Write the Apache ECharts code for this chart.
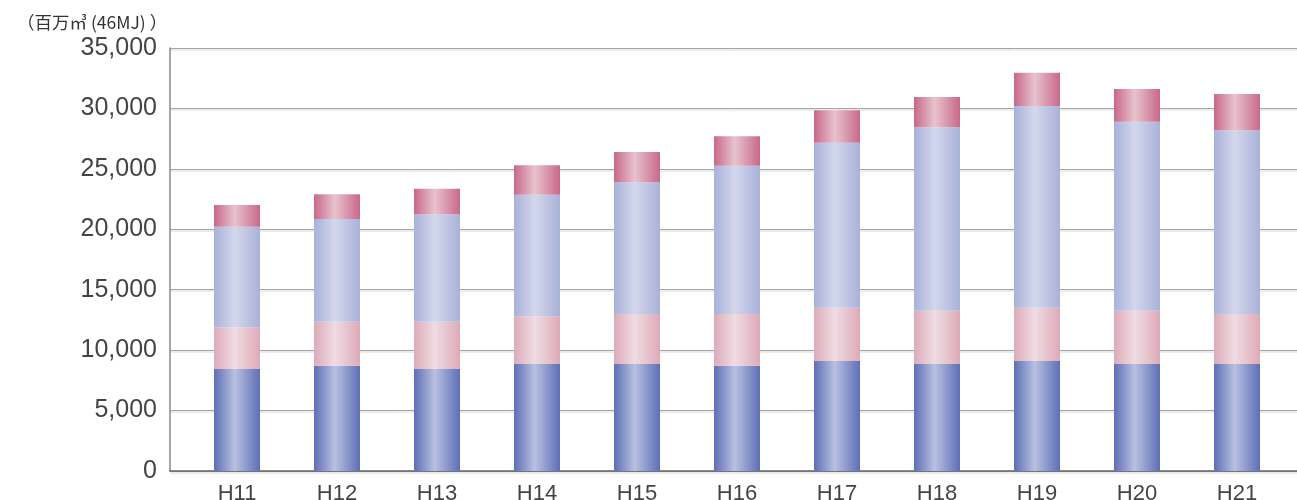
<!DOCTYPE html>
<html>
<head>
<meta charset="utf-8">
<script src="https://cdn.jsdelivr.net/npm/echarts@6/dist/echarts.min.js"></script>
<style>
  html, body { margin: 0; padding: 0; background: #fff; }
  #chart { width: 1297px; height: 500px; }
</style>
</head>
<body>
<div id="chart"></div>
<script>
// Fiscal years (Heisei)
const categories = ['H11', 'H12', 'H13', 'H14', 'H15', 'H16', 'H17', 'H18', 'H19', 'H20', 'H21'];

// Stacked segments, bottom to top (百万㎥, 46MJ basis)
const segment1 = [8450, 8700, 8450, 8850, 8850, 8700, 9100, 8850, 9100, 8850, 8850];
const segment2 = [3450, 3650, 3900, 3950, 4150, 4300, 4400, 4400, 4400, 4400, 4150];
const segment3 = [8300, 8500, 8900, 10050, 10900, 12250, 13650, 15200, 16700, 15650, 15200];
const segment4 = [1800, 2050, 2100, 2450, 2500, 2450, 2700, 2500, 2750, 2700, 3000];

const unitLabel = '（百万㎥ (46MJ) ）';
const yMin = 0, yMax = 35000, yStep = 5000;

function barGradient(edge, mid) {
  return new echarts.graphic.LinearGradient(0, 0, 1, 0, [
    { offset: 0, color: edge },
    { offset: 0.45, color: mid },
    { offset: 1, color: edge }
  ]);
}

const styles = [
  barGradient('#5d6fb6', '#b9c0e0'),
  barGradient('#ddaab8', '#efdce2'),
  barGradient('#a8b1d9', '#d4d7ec'),
  barGradient('#c9688a', '#e7c3cd')
];

const segments = [segment1, segment2, segment3, segment4];

const series = segments.map((vals, i) => ({
  type: 'bar',
  stack: 'total',
  xAxisIndex: 1,
  yAxisIndex: 1,
  barWidth: 46,
  data: vals,
  itemStyle: { color: styles[i] },
  silent: true
}));

const chart = echarts.init(document.getElementById('chart'), null, { renderer: 'canvas' });
chart.setOption({
  animation: false,
  backgroundColor: '#ffffff',
  title: {
    text: unitLabel,
    left: 12,
    top: 9,
    textStyle: {
      fontFamily: '"Noto Sans CJK JP", sans-serif',
      fontSize: 17.5,
      fontWeight: 'normal',
      color: '#333'
    }
  },
  grid: [
    { left: 170, right: 0, top: 48, bottom: 29, outerBoundsMode: 'none', containLabel: false },
    { left: 187, right: 10, top: 48, bottom: 29, outerBoundsMode: 'none', containLabel: false }
  ],
  xAxis: [
    {
      type: 'value', gridIndex: 0, min: 0, max: 1,
      axisLine: { show: true, lineStyle: { color: '#666', width: 1.5 } },
      axisTick: { show: false }, axisLabel: { show: false }, splitLine: { show: false }
    },
    {
      type: 'category', gridIndex: 1, data: categories,
      axisLine: { show: false }, axisTick: { show: false },
      axisLabel: {
        margin: 12,
        fontFamily: '"Liberation Sans", Arial, sans-serif',
        fontSize: 22,
        color: '#444'
      }
    }
  ],
  yAxis: [
    {
      type: 'value', gridIndex: 0, min: yMin, max: yMax, interval: yStep,
      axisLine: { show: true, lineStyle: { color: '#888', width: 1.5 } },
      axisTick: { show: false },
      axisLabel: {
        margin: 13,
        fontFamily: '"Liberation Sans", Arial, sans-serif',
        fontSize: 25,
        color: '#444',
        formatter: v => v.toLocaleString('en-US')
      },
      splitLine: {
        show: true,
        lineStyle: { color: '#a4a4a4', width: 1, shadowColor: '#d8d8d8', shadowOffsetY: 1.5, shadowBlur: 0 }
      }
    },
    {
      type: 'value', gridIndex: 1, min: yMin, max: yMax, interval: yStep,
      show: false
    }
  ],
  series: series
});
</script>
</body>
</html>
